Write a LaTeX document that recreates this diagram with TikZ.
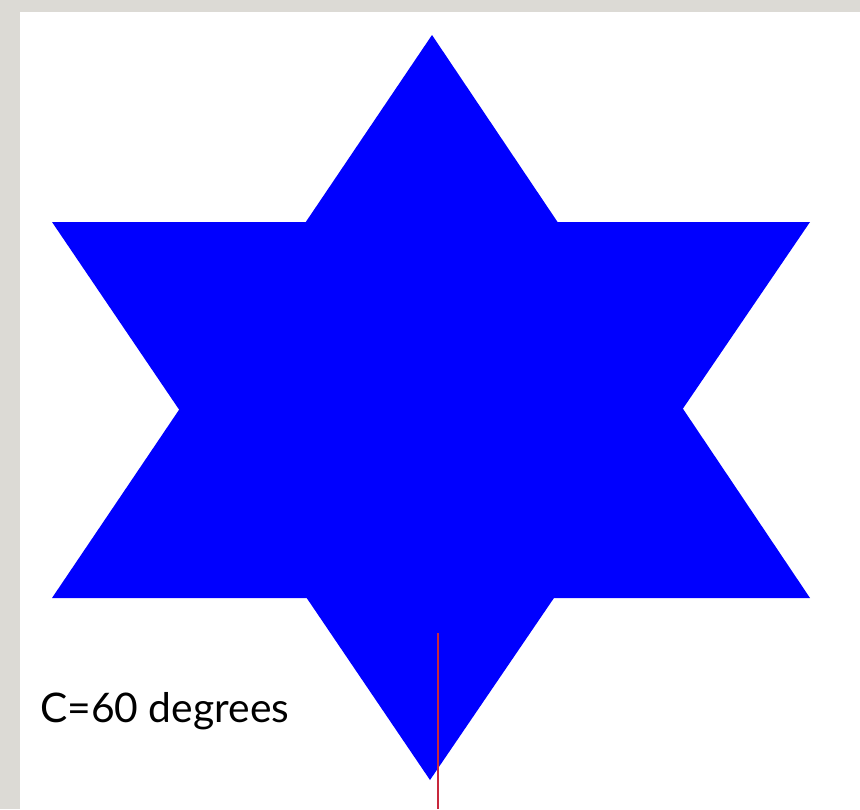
\documentclass[tikz,border=0pt]{standalone}
\usepackage{fontspec}
\setsansfont{Lato}
\usetikzlibrary{positioning, calc}

\definecolor{framegray}{RGB}{220,218,213}
\definecolor{starblue}{RGB}{0,0,255}
\definecolor{markred}{RGB}{200,40,60}

\begin{document}
\begin{tikzpicture}[
  x=0.025cm, y=-0.025cm,
  %% star fill
  starfill/.style={fill=starblue, draw=none},
  %% red marker line
  marker/.style={draw=markred, line width=1.2pt},
  %% caption text
  caption/.style={font=\sffamily\fontsize{29}{34}\selectfont, anchor=base west, inner sep=0pt}
]

%% ================================================================
%% PAGE FRAME
%% ================================================================
\fill[framegray] (0,0) rectangle (860,809);
\fill[white] (20,12) rectangle (860,809);
\useasboundingbox (0,0) rectangle (860,809);

%% ================================================================
%% STAR (two overlapping triangles)
%% ================================================================
\coordinate (apexup)   at (432,35);
\coordinate (baseleft) at (52,598);
\coordinate (baseright) at (810,598);
\coordinate (apexdown) at (430,780);
\coordinate (topleft)  at (52,222);
\coordinate (topright) at (810,222);

\fill[starfill] (apexup) -- (baseright) -- (baseleft) -- cycle;
\fill[starfill] (apexdown) -- (topleft) -- (topright) -- cycle;

%% ================================================================
%% MARKER LINE AND CAPTION
%% ================================================================
\coordinate (markstart) at (438,633);
\coordinate (markend)   at (438,809);
\draw[marker] (markstart) -- (markend);

\node[caption] (angletext) at (40,722) {C=60 degrees};

\end{tikzpicture}
\end{document}
